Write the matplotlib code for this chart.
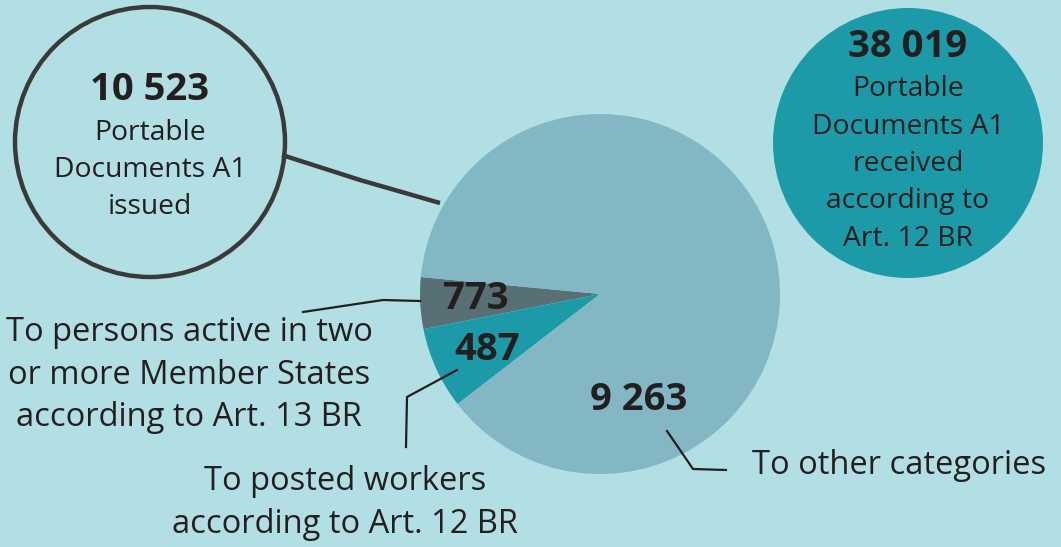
import numpy as np
import matplotlib
matplotlib.use('Agg')
from matplotlib import pyplot as plt
from matplotlib.patches import Circle

plt.rcParams['font.family'] = ['Open Sans', 'DejaVu Sans']

# PD A1 counts
counts = [773, 487, 9263]
count_names = ['To persons active in two\nor more Member States\naccording to Art. 13 BR',
               'To posted workers\naccording to Art. 12 BR',
               'To other categories']
received = 38019

BG = '#b2dfe4'
INK = '#231f20'
grey, teal, light = '#587075', '#1c9aa8', '#82b7c3'

def fmt(v):
    return f'{v:,}'.replace(',', ' ')

H = 547
fig = plt.figure(figsize=(10.61, 5.47), dpi=100, facecolor=BG)
ax = fig.add_axes([0, 0, 1, 1])
ax.set_facecolor(BG)

# the source graphic draws the grey wedge at the 487 share and the teal one at 773
ax.pie([counts[1], counts[0], counts[2]], colors=[grey, teal, light],
       startangle=174.6, counterclock=True, center=(600, H - 294), radius=180,
       frame=True, wedgeprops=dict(edgecolor='none'))
ax.set_xlim(0, 1061)
ax.set_ylim(0, H)
ax.set_aspect('equal')
ax.axis('off')

def y(v):
    return H - v

NUM = 27.5
TXT = 20.3
LBL = 23.5

# left circle: total issued
ax.add_patch(Circle((150, y(142)), 135, facecolor='none', edgecolor='#3a3a3a', lw=3.2))
ax.plot([282, 360, 440], [y(155), y(180), y(203)], color='#3a3a3a', lw=3.2,
        solid_capstyle='butt')
ax.text(150, y(90), fmt(sum(counts)), ha='center', va='center', fontsize=NUM,
        fontweight='bold', color=INK)
ax.text(150, y(170), 'Portable\nDocuments A1\nissued', ha='center', va='center',
        fontsize=TXT, color=INK, linespacing=1.45)

# right circle: received
ax.add_patch(Circle((908, y(143)), 135, facecolor=teal, edgecolor='none'))
ax.text(908, y(47), fmt(received), ha='center', va='center', fontsize=NUM,
        fontweight='bold', color=INK)
ax.text(908, y(164), 'Portable\nDocuments A1\nreceived\naccording to\nArt. 12 BR',
        ha='center', va='center', fontsize=TXT, color=INK, linespacing=1.45)

# wedge numbers
ax.text(476, y(299), fmt(counts[0]), ha='center', va='center', fontsize=NUM,
        fontweight='bold', color=INK)
ax.text(487, y(350), fmt(counts[1]), ha='center', va='center', fontsize=NUM,
        fontweight='bold', color=INK)
ax.text(639, y(400), fmt(counts[2]), ha='center', va='center', fontsize=NUM,
        fontweight='bold', color=INK)

# leader lines
ax.plot([303, 383, 420], [y(312), y(300), y(301)], color=INK, lw=1.6)
ax.plot([457, 407, 406], [y(370), y(397), y(447)], color=INK, lw=1.6)
ax.plot([667, 693, 726], [y(431), y(469), y(470)], color=INK, lw=1.6)

# category labels
ax.text(189, y(375), count_names[0], ha='center', va='center', fontsize=LBL,
        color=INK, linespacing=1.39)
ax.text(345, y(503), count_names[1], ha='center', va='center', fontsize=LBL,
        color=INK, linespacing=1.39)
ax.text(752, y(465), count_names[2], ha='left', va='center', fontsize=LBL,
        color=INK)

fig.savefig('out.png', dpi=100, facecolor=BG)
